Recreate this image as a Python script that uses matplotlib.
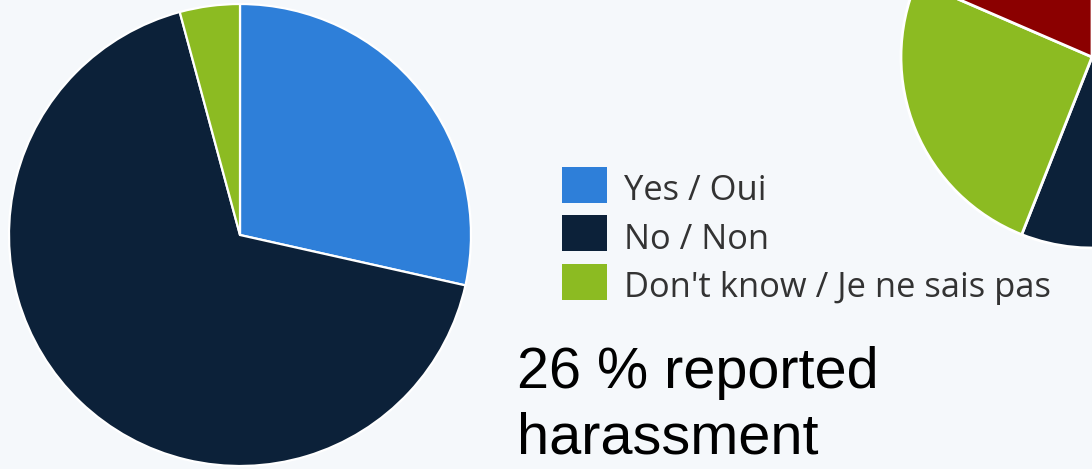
import matplotlib.pyplot as plt
from matplotlib.patches import Rectangle

# survey answers, in percent
labels = ['Yes / Oui', 'No / Non', "Don't know / Je ne sais pas"]
shares = [28.5, 67.3, 4.2]
colors = ['#2e7fd9', '#0c2139', '#8cbb22']

# neighbouring chart, only partly on the canvas
side_shares = [20.0, 36.0, 25.5, 18.5]
side_colors = ['#2e7fd9', '#0c2139', '#8cbb22', '#8b0000']

W, H = 1092, 469
bg = '#f5f8fb'

fig = plt.figure(figsize=(W / 100, H / 100), dpi=100, facecolor=bg)


def px_axes(cx, cy, r):
    """axes holding a unit circle centred at pixel (cx, cy), radius r"""
    ax = fig.add_axes([(cx - r) / W, (H - cy - r) / H, 2 * r / W, 2 * r / H])
    ax.set_facecolor('none')
    return ax


ax = px_axes(240, 235, 231)
ax.pie(shares, colors=colors, startangle=90, counterclock=False,
       wedgeprops=dict(edgecolor='white', linewidth=1.6))
ax.set_xlim(-1, 1)
ax.set_ylim(-1, 1)
ax.axis('off')

ax2 = px_axes(1092, 57, 191)
ax2.pie(side_shares, colors=side_colors, startangle=90, counterclock=False,
        wedgeprops=dict(edgecolor='white', linewidth=2))
ax2.set_xlim(-1, 1)
ax2.set_ylim(-1, 1)
ax2.axis('off')

# legend drawn by hand
for i, (lab, col) in enumerate(zip(labels, colors)):
    top = 167 + i * 48.5
    fig.patches.append(Rectangle((562 / W, 1 - (top + 36) / H), 45 / W, 36 / H,
                                 transform=fig.transFigure, facecolor=col,
                                 edgecolor='none'))
    fig.text(624 / W, 1 - (top + 33) / H, lab, fontsize=24.8,
             family='Open Sans', color='#333333', va='baseline')

fig.text(517 / W, 1 - 388 / H, '26 % reported', fontsize=41.5,
         family='Liberation Sans', color='black', va='baseline')
fig.text(517 / W, 1 - 453 / H, 'harassment', fontsize=41.5,
         family='Liberation Sans', color='black', va='baseline')

fig.savefig('out.png', dpi=100, facecolor=bg)
